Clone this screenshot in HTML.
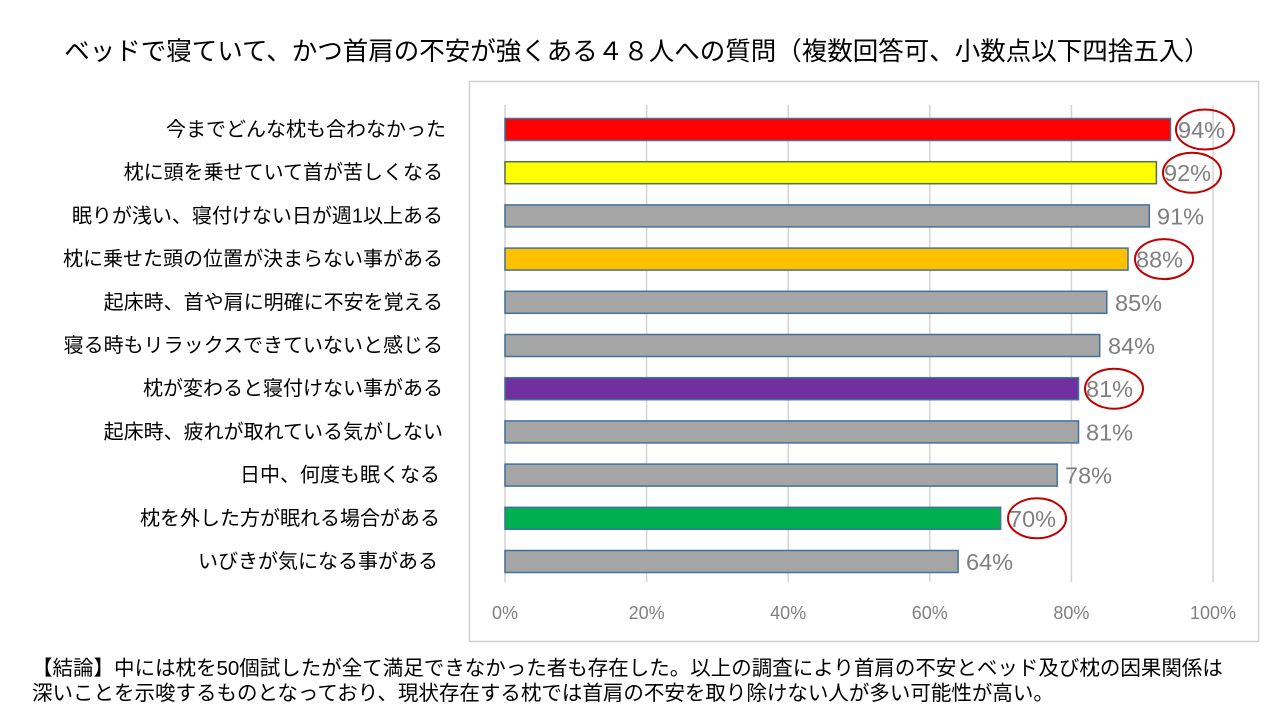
<!DOCTYPE html>
<html><head><meta charset="utf-8"><style>
body{margin:0;width:1280px;height:720px;background:#fff;overflow:hidden;font-family:"Liberation Sans","Noto Sans CJK JP",sans-serif}
svg{position:absolute;left:0;top:0}
</style></head><body>
<svg width="1280" height="720" xmlns="http://www.w3.org/2000/svg" font-family="Liberation Sans, Noto Sans CJK JP, sans-serif">
<text x="637" y="60" font-size="25.5" text-anchor="middle" fill="#000">ベッドで寝ていて、かつ首肩の不安が強くある４８人への質問（複数回答可、小数点以下四捨五入）</text>
<rect x="469.5" y="81.5" width="789" height="560" fill="#fff" stroke="#d0d0d0" stroke-width="1.5"/>
<g stroke="#d4d4d4" stroke-width="1.5">
<line x1="505" y1="105" x2="505" y2="582"/><line x1="646.6" y1="105" x2="646.6" y2="582"/><line x1="788.2" y1="105" x2="788.2" y2="582"/><line x1="929.8" y1="105" x2="929.8" y2="582"/><line x1="1071.4" y1="105" x2="1071.4" y2="582"/><line x1="1213" y1="105" x2="1213" y2="582"/>
</g>
<g font-size="18" fill="#808080" text-anchor="middle">
<text x="505" y="619">0%</text><text x="646.6" y="619">20%</text><text x="788.2" y="619">40%</text><text x="929.8" y="619">60%</text><text x="1071.4" y="619">80%</text><text x="1213" y="619">100%</text>
</g>
<g stroke="#41719c" stroke-width="1.5">
<rect x="505" y="118.5" width="665.5" height="22" fill="#ff0000"/>
<rect x="505" y="161.7" width="651.4" height="22" fill="#ffff00" stroke="#507050"/>
<rect x="505" y="204.9" width="644.3" height="22" fill="#a5a5a5"/>
<rect x="505" y="248.1" width="623" height="22" fill="#ffc000"/>
<rect x="505" y="291.3" width="601.8" height="22" fill="#a5a5a5"/>
<rect x="505" y="334.5" width="594.7" height="22" fill="#a5a5a5"/>
<rect x="505" y="377.7" width="573.5" height="22" fill="#7030a0"/>
<rect x="505" y="420.9" width="573.5" height="22" fill="#a5a5a5"/>
<rect x="505" y="464.1" width="552.2" height="22" fill="#a5a5a5"/>
<rect x="505" y="507.3" width="495.6" height="22" fill="#00b050"/>
<rect x="505" y="550.5" width="453.1" height="22" fill="#a5a5a5"/>
</g>
<g font-size="23.5" fill="#7f7f7f">
<text x="1178" y="138">94%</text><text x="1164" y="181.2">92%</text><text x="1157" y="224.4">91%</text><text x="1136" y="267.6">88%</text><text x="1115" y="310.8">85%</text><text x="1108" y="354">84%</text><text x="1086" y="397.2">81%</text><text x="1086" y="440.4">81%</text><text x="1065" y="483.6">78%</text><text x="1009" y="526.8">70%</text><text x="966" y="570">64%</text>
</g>
<g fill="none" stroke="#c00000" stroke-width="2">
<ellipse cx="1205" cy="129.5" rx="29" ry="20"/>
<ellipse cx="1192" cy="172.7" rx="29" ry="20"/>
<ellipse cx="1164" cy="259.1" rx="29" ry="20"/>
<ellipse cx="1114" cy="388.7" rx="29" ry="20"/>
<ellipse cx="1037" cy="518.3" rx="29" ry="20"/>
</g>
<g font-size="20" fill="#000" text-anchor="end">
<text x="446" y="136">今までどんな枕も合わなかった</text>
<text x="443" y="179.2">枕に頭を乗せていて首が苦しくなる</text>
<text x="443" y="222.4">眠りが浅い、寝付けない日が週1以上ある</text>
<text x="443" y="265.6">枕に乗せた頭の位置が決まらない事がある</text>
<text x="443" y="308.8">起床時、首や肩に明確に不安を覚える</text>
<text x="443" y="352">寝る時もリラックスできていないと感じる</text>
<text x="443" y="395.2">枕が変わると寝付けない事がある</text>
<text x="443" y="438.4">起床時、疲れが取れている気がしない</text>
<text x="440" y="481.6">日中、何度も眠くなる</text>
<text x="440" y="524.8">枕を外した方が眠れる場合がある</text>
<text x="438" y="568">いびきが気になる事がある</text>
</g>
<g font-size="20.5" fill="#000">
<text x="32" y="675">【結論】中には枕を50個試したが全て満足できなかった者も存在した。以上の調査により首肩の不安とベッド及び枕の因果関係は</text>
<text x="32" y="700">深いことを示唆するものとなっており、現状存在する枕では首肩の不安を取り除けない人が多い可能性が高い。</text>
</g>
</svg>
</body></html>
